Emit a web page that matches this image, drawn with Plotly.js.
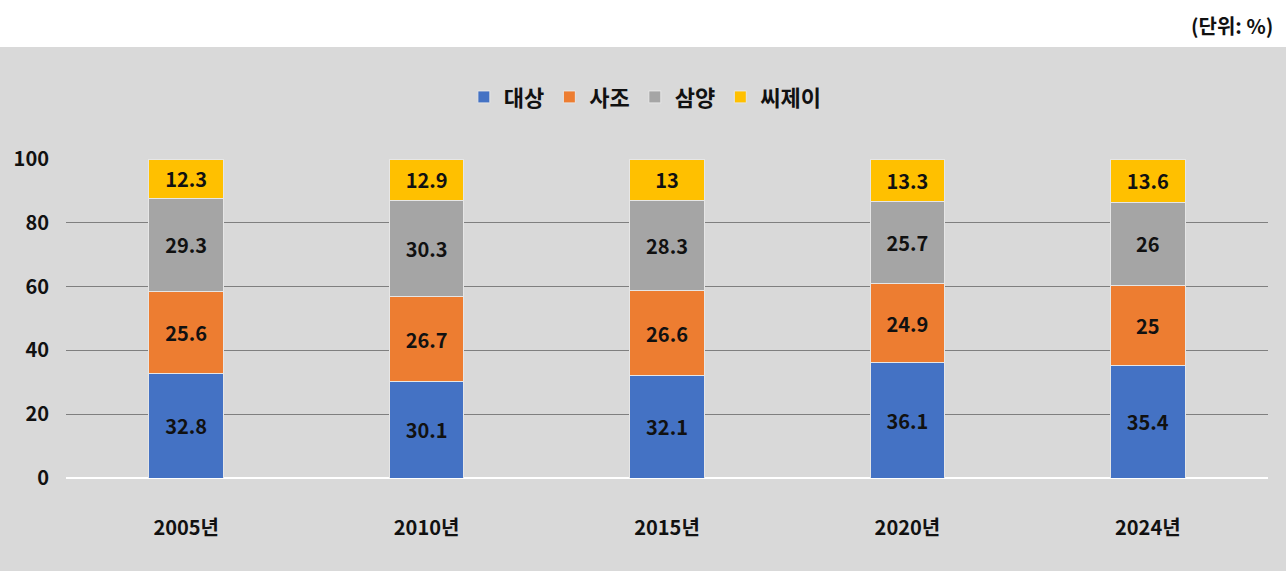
<!DOCTYPE html>
<html>
<head>
<meta charset="utf-8">
<script src="https://cdn.plot.ly/plotly-3.0.1.min.js"></script>
<style>html,body{margin:0;padding:0;background:#fff;}#chart{width:1286px;height:571px;}</style>
</head>
<body>
<div id="chart"></div>
<script>
const categories = ['2005년', '2010년', '2015년', '2020년', '2024년'];
const daesang = [32.8, 30.1, 32.1, 36.1, 35.4];
const sajo = [25.6, 26.7, 26.6, 24.9, 25];
const samyang = [29.3, 30.3, 28.3, 25.7, 26];
const cj = [12.3, 12.9, 13, 13.3, 13.6];
const seriesNames = ['대상', '사조', '삼양', '씨제이'];
const colors = ['#4472c4', '#ed7d31', '#a5a5a5', '#ffc000'];
const unitLabel = '(단위: %)';

const FONT = '"Noto Sans CJK KR", sans-serif';
const allSeries = [daesang, sajo, samyang, cj];
const traces = allSeries.map((vals, i) => ({
  type: 'bar',
  name: seriesNames[i],
  x: categories,
  y: vals,
  text: vals.map(v => String(v)),
  textposition: 'inside',
  insidetextanchor: 'middle',
  textangle: 0,
  constraintext: 'none',
  textfont: {family: FONT, size: 20, color: '#111111', weight: 'bold'},
  marker: {color: colors[i], line: {color: '#e6e6e6', width: 1}},
  hoverinfo: 'skip'
}));

const layout = {
  width: 1286, height: 571,
  barmode: 'stack',
  bargap: 0.69,
  paper_bgcolor: '#d9d9d9',
  plot_bgcolor: '#d9d9d9',
  margin: {l: 66, r: 18, t: 159, b: 93},
  font: {family: FONT, size: 19, color: '#111111', weight: 'bold'},
  showlegend: true,
  legend: {orientation: 'h', x: 0.482, xanchor: 'center', y: 1.194, yanchor: 'middle',
           font: {family: FONT, size: 22, color: '#111111', weight: 'bold'},
           bgcolor: 'rgba(0,0,0,0)', itemwidth: 30, traceorder: 'normal'},
  xaxis: {type: 'category', showgrid: false, zeroline: false, ticks: '', showline: false,
          ticklabelstandoff: 36,
          tickfont: {family: FONT, size: 20, color: '#111111', weight: 'bold'}},
  yaxis: {range: [0, 100], dtick: 20, showgrid: true, gridcolor: '#7f7f7f', gridwidth: 1,
          zeroline: true, zerolinecolor: '#ffffff', zerolinewidth: 2, showline: false, ticks: '',
          ticklabelstandoff: 16,
          tickfont: {family: FONT, size: 20, color: '#111111', weight: 'bold'}},
  shapes: [{type: 'rect', xref: 'paper', yref: 'paper', x0: -0.1, x1: 1.1, y0: 1.351, y1: 1.6,
            fillcolor: '#ffffff', line: {width: 0}, layer: 'below'}],
  annotations: [{text: unitLabel, xref: 'paper', yref: 'paper', x: 1.006, xanchor: 'right',
                 y: 1.42, yanchor: 'middle', showarrow: false,
                 font: {family: FONT, size: 20, color: '#111111'}}]
};

Plotly.newPlot('chart', traces, layout, {displayModeBar: false, staticPlot: true});
</script>
</body>
</html>
